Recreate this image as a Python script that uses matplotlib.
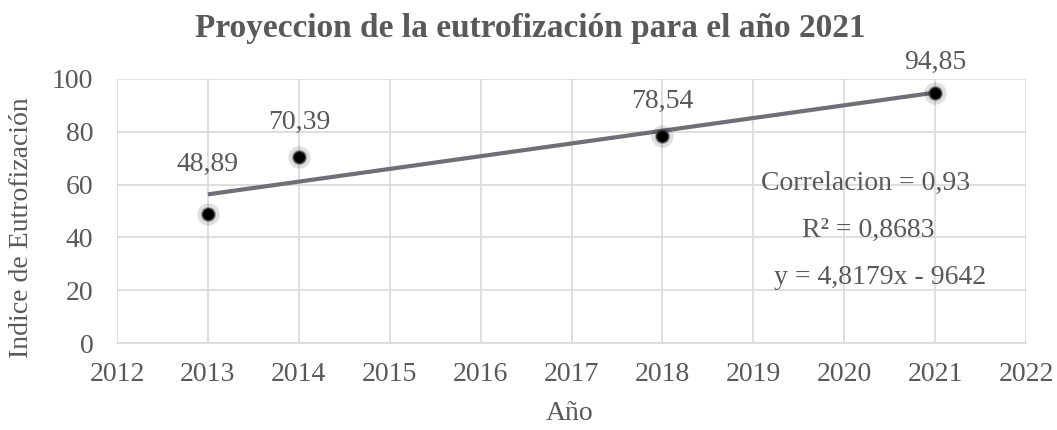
import numpy as np
import matplotlib.pyplot as plt

years = [2013, 2014, 2018, 2021]
indice = [48.89, 70.39, 78.54, 94.85]
etiquetas = ["48,89", "70,39", "78,54", "94,85"]
x_ticks = list(range(2012, 2023))
y_ticks = [0, 20, 40, 60, 80, 100]

title = "Proyeccion de la eutrofización para el año 2021"
stats_lines = ["Correlacion = 0,93", "R² = 0,8683", "y = 4,8179x - 9642"]

plt.rcParams['font.family'] = ['Liberation Serif', 'DejaVu Serif']
text_color = '#595959'
grid_color = '#d9d9d9'


def main():
    fig = plt.figure(figsize=(10.57, 4.30), dpi=100)
    ax = fig.add_axes([0.1107, 0.2023, 0.86, 0.614])

    # linear trend from the data
    slope, intercept = np.polyfit(years, indice, 1)
    tx = np.array([min(years), max(years)])
    ax.plot(tx, slope * tx + intercept, color='#6f7076', linewidth=3.0,
            solid_capstyle='butt', zorder=3)

    # soft shadow then black dots
    ax.scatter(years, indice, s=260, color='#000000', alpha=0.12,
               linewidths=0, zorder=4)
    ax.scatter(years, indice, s=120, color='#000000', alpha=0.25,
               linewidths=0, zorder=4)
    ax.scatter(years, indice, s=75, color='#000000', edgecolors='#404040',
               linewidths=0.8, zorder=5)

    offsets = [36, 25, 25, 22]
    for x, y, lab, off in zip(years, indice, etiquetas, offsets):
        ax.annotate(lab, (x, y), xytext=(0, off), textcoords='offset points',
                    ha='center', va='center', fontsize=20, color=text_color)

    ax.set_xlim(2012, 2022)
    ax.set_ylim(0, 100)
    ax.set_xticks(x_ticks)
    ax.set_yticks(y_ticks)
    ax.tick_params(axis='both', length=0, labelsize=20, colors=text_color)
    ax.tick_params(axis='x', pad=14)
    ax.tick_params(axis='y', pad=17)
    ax.grid(True, color=grid_color, linewidth=1.2, zorder=0)
    ax.set_axisbelow(True)
    for side in ['top', 'right', 'left']:
        ax.spines[side].set_visible(False)
    ax.spines['bottom'].set_color(grid_color)
    ax.spines['bottom'].set_linewidth(1.2)

    fig.text(570 / 1057, 1 - 414 / 430, 'Año', ha='center', va='center',
             fontsize=20, color=text_color)
    fig.text(22 / 1057, 1 - 228 / 430, 'Indice de Eutrofización',
             rotation=90, ha='center', va='center', fontsize=20,
             color=text_color)
    fig.text(0.502, 1 - 28 / 430, title, ha='center', va='center',
             fontsize=24, fontweight='bold', color=text_color)

    stat_pos = [(0.823, 0.606), (0.826, 0.428), (0.839, 0.25)]
    for (px, py), s in zip(stat_pos, stats_lines):
        ax.text(px, py, s, transform=ax.transAxes, ha='center', va='center',
                fontsize=20, color=text_color, zorder=6)

    fig.savefig("out.png", dpi=100)


if __name__ == "__main__":
    main()
